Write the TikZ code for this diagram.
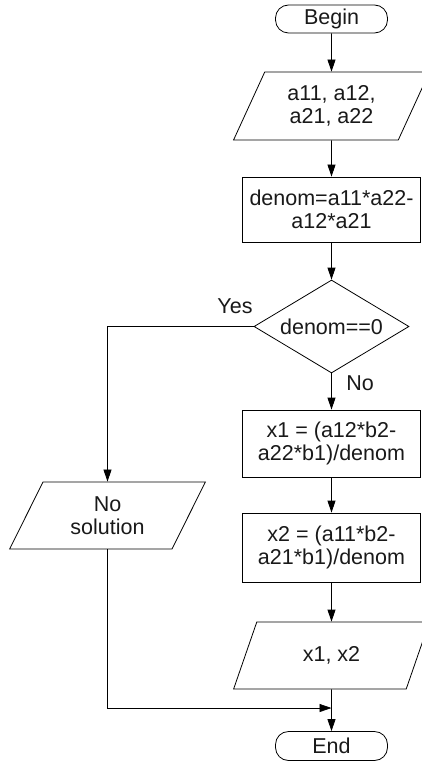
\documentclass[tikz,border=0pt]{standalone}
\usepackage{fontspec}
\setmainfont{Liberation Sans}
\usetikzlibrary{shapes.geometric,arrows.meta}
\begin{document}
\begin{tikzpicture}[x=1pt,y=-1pt,
  every node/.style={font=\fontsize{21.5}{23.3}\selectfont, align=center, inner sep=0pt, text=black!90},
  term/.style={draw, rectangle, rounded corners=13pt, minimum width=112pt},
  proc/.style={draw, rectangle, minimum width=178pt},
  io/.style={draw, trapezium, trapezium left angle=63.4, trapezium right angle=116.6, trapezium stretches=true, minimum width=196pt},
  decision/.style={draw, diamond, aspect=1.67, minimum width=155pt, minimum height=93pt},
  arr/.style={-{Triangle[length=12pt,width=8pt]}},
  line width=0.8pt]
\clip (0,0) rectangle (422,762);
\node[term, minimum height=28pt] (begin) at (331.5,19) {Begin};
\node[io, minimum height=68pt] (in1) at (331.5,106) {a11, a12,\\a21, a22};
\node[proc, minimum height=65pt] (denom) at (331.5,209.5) {denom=a11*a22-\\a12*a21};
\node[decision] (dec) at (331.5,326.5) {denom==0};
\node[proc, minimum height=67pt] (x1) at (331.5,443.5) {x1 = (a12*b2-\\a22*b1)/denom};
\node[proc, minimum height=69pt] (x2) at (331.5,547.5) {x2 = (a11*b2-\\a21*b1)/denom};
\node[io, minimum height=67pt] (out) at (331.5,655.5) {x1, x2};
\node[io, minimum height=67pt] (nosol) at (107.5,515.5) {No\\solution};
\node[term, minimum height=29pt] (end) at (331.5,746) {End};
\node (yes) at (235,306) {Yes};
\node (no) at (360,383) {No};
\coordinate (merge) at (331.5,708);
\draw[arr] (begin.south) -- (in1.north);
\draw[arr] (in1.south) -- (denom.north);
\draw[arr] (denom.south) -- (dec.north);
\draw[arr] (dec.south) -- (x1.north);
\draw[arr] (x1.south) -- (x2.north);
\draw[arr] (x2.south) -- (out.north);
\draw[arr] (out.south) -- (end.north);
\draw[arr] (dec.west) -| (nosol.north);
\draw[arr] (nosol.south) |- (merge);
\end{tikzpicture}
\end{document}
